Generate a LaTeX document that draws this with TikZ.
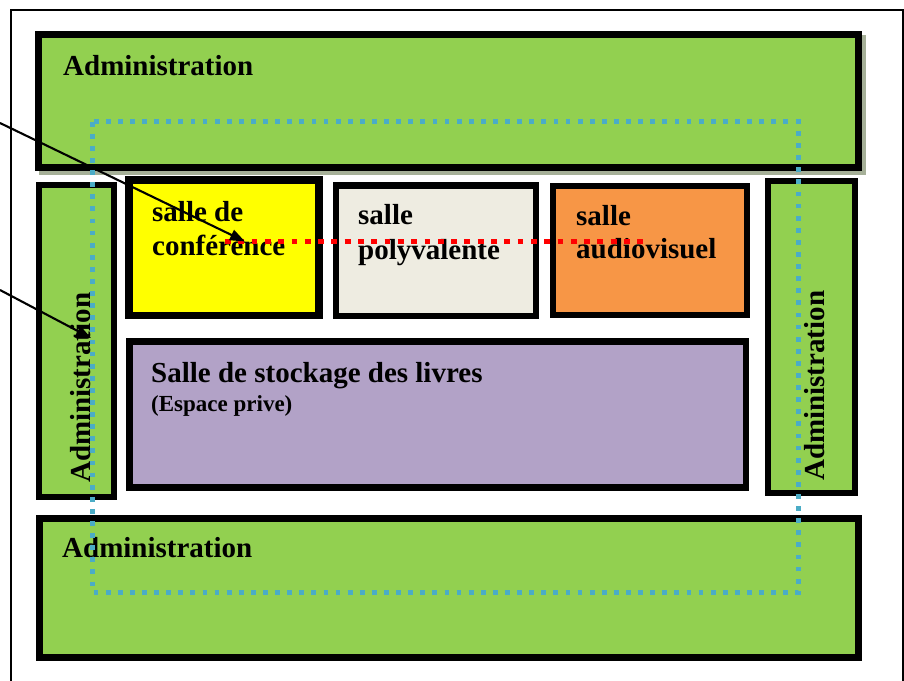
\documentclass[tikz,border=0pt]{standalone}
\usepackage{fontspec}
\setmainfont{Liberation Serif}
\usetikzlibrary{arrows.meta}
\definecolor{admgreen}{HTML}{92D050}
\definecolor{confyellow}{HTML}{FFFF00}
\definecolor{polygrey}{HTML}{EEECE1}
\definecolor{audioorange}{HTML}{F79646}
\definecolor{stockpurple}{HTML}{B2A2C7}
\definecolor{zoneblue}{HTML}{4BACC6}
\definecolor{shadowgrey}{RGB}{166,176,152}
\tikzset{
  room/.style={draw=black, line width=#1},
  roomtext/.style={font=\fontsize{29}{34}\selectfont\bfseries, inner sep=0pt, anchor=base west},
  smalltext/.style={font=\fontsize{23}{27}\selectfont\bfseries, inner sep=0pt, anchor=base west},
  zone/.style={draw=zoneblue, line width=4.5pt, dash pattern=on 4.8pt off 7.3pt},
  route/.style={draw=red, line width=5pt, dash pattern=on 5.8pt off 7.5pt},
  pointer/.style={draw=black, line width=2.1pt, -{Triangle[length=15pt,width=11pt]}},
}
\begin{document}
\begin{tikzpicture}[x=1pt,y=-1pt]
\useasboundingbox (0,0) rectangle (904,680);
% outer frame
\draw[line width=1.5pt] (11,10) rectangle (903,700);
% top administration with shadow
\fill[shadowgrey] (39,35) rectangle (865.7,175);
\filldraw[fill=admgreen, room=7pt] (38.5,34.5) rectangle (858.5,167.5);
% side administrations
\filldraw[fill=admgreen, room=6pt] (39,185) rectangle (114,497);
\filldraw[fill=admgreen, room=6pt] (768,181) rectangle (855,493);
% rooms
\filldraw[fill=confyellow, room=7.5pt] (128.75,179.75) rectangle (319,315.5);
\filldraw[fill=polygrey, room=6.3pt] (335.8,185.4) rectangle (535.8,315.8);
\filldraw[fill=audioorange, room=6pt] (553,185.7) rectangle (747,315.3);
\filldraw[fill=stockpurple, room=6.7pt] (129.3,341.6) rectangle (746,487.6);
% bottom administration
\filldraw[fill=admgreen, room=6.7pt] (39.3,518.3) rectangle (858.6,657.6);
% texts
\node[roomtext] (topadm) at (63,75) {Administration};
\node[roomtext] (botadm) at (62,557) {Administration};
\node[roomtext] (conf1) at (152,221) {salle de};
\node[roomtext] (conf2) at (152,255) {conférence};
\node[roomtext] (poly1) at (358,224) {salle};
\node[roomtext] (poly2) at (358,259) {polyvalente};
\node[roomtext] (audio1) at (576,225) {salle};
\node[roomtext] (audio2) at (576,258) {audiovisuel};
\node[roomtext] (stock) at (151,382) {Salle de stockage des livres};
\node[smalltext] (prive) at (151,411) {(Espace prive)};
\node[roomtext, rotate=90] (leftadm) at (90,483) {Administration};
\node[roomtext, rotate=90] (rightadm) at (824,481) {Administration};
% zones and routes
\draw[zone] (92.7,121.7) rectangle (798.3,592.7);
\coordinate (r1) at (225,241);
\coordinate (r2) at (650,241);
\draw[route] (r1) -- (r2);
% pointers
\coordinate (p1s) at (0,123);
\coordinate (p1e) at (245,241.5);
\coordinate (p2s) at (0,290);
\coordinate (p2e) at (91,338);
\draw[pointer] (p1s) -- (p1e);
\draw[pointer] (p2s) -- (p2e);
\end{tikzpicture}
\end{document}
